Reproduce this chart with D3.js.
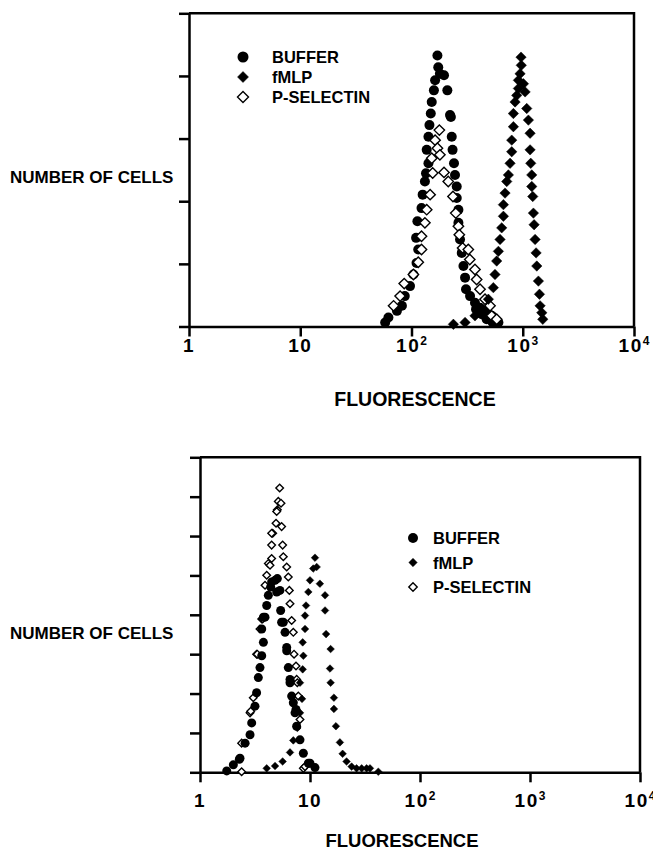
<!DOCTYPE html>
<html>
<head>
<meta charset="utf-8">
<script src="https://cdn.jsdelivr.net/npm/d3@7"></script>
<style>
  body { margin: 0; background: #fff; }
</style>
</head>
<body>
<svg id="chart" width="653" height="851"></svg>
<script>
// legend + axis text
const seriesNames = ["BUFFER", "fMLP", "P-SELECTIN"];
const xTickValues = [1, 10, 100, 1000, 10000];
const xTickBase = ["1", "10", "10", "10", "10"];
const xTickExp = ["", "", "2", "3", "4"];

// top panel: [fluorescence, number of cells]
const topBuffer = [
  [58, 1.3], [62, 2.9], [74, 5.0], [82, 6.6], [87, 9.7], [97, 12.9], [104, 16.6], [111, 20.3],
  [115, 24.6], [110, 28.3], [113, 33.6], [123, 37.8], [126, 42.1], [132, 46.3], [135, 48.9],
  [142, 52.1], [137, 56.4], [142, 60.6], [145, 64.3], [149, 68.0], [152, 71.7], [159, 75.4],
  [163, 78.6], [171, 86.5], [174, 82.8], [180, 80.7], [196, 80.2], [210, 75.4], [222, 67.5],
  [226, 66.9], [230, 60.6], [234, 56.4], [241, 52.1], [246, 48.4], [255, 44.7], [255, 41.0],
  [264, 37.3], [264, 33.1], [273, 27.8], [283, 23.5], [293, 19.3], [303, 15.6], [309, 11.9],
  [336, 9.7], [372, 7.6], [380, 5.5], [413, 6.0], [428, 3.9], [458, 5.0], [474, 2.3],
  [526, 3.4], [537, 1.3], [604, 1.3]
];
const topFmlp = [
  [238, 0.7], [303, 1.3], [372, 3.4], [428, 5.5], [491, 8.7], [544, 12.4], [563, 16.6],
  [583, 20.9], [604, 24.0], [625, 27.8], [647, 31.5], [670, 35.2], [670, 38.9], [693, 42.6],
  [718, 46.3], [743, 48.4], [769, 52.1], [796, 55.8], [796, 59.5], [824, 63.8], [824, 68.0],
  [853, 71.7], [883, 73.8], [914, 76.0], [914, 78.6], [946, 80.7], [970, 83.4], [965, 86.0],
  [1014, 77.5], [1050, 74.9], [1086, 69.6], [1124, 65.9], [1164, 61.7], [1164, 56.4],
  [1180, 52.1], [1205, 48.4], [1205, 44.7], [1230, 41.5], [1247, 36.2], [1265, 32.5],
  [1291, 27.8], [1318, 23.5], [1337, 19.3], [1383, 14.5], [1413, 10.3], [1432, 6.6],
  [1483, 4.4], [1514, 2.3]
];
const topPsel = [
  [69, 6.6], [79, 9.7], [86, 13.7], [104, 16.6], [115, 20.5], [123, 24.6], [123, 28.8],
  [132, 33.1], [137, 37.3], [147, 42.1], [155, 49.0], [152, 53.7], [163, 59.5], [178, 62.7],
  [171, 56.9], [180, 54.8], [196, 49.2], [214, 46.3], [236, 41.5], [250, 36.2], [264, 32.0],
  [269, 29.3], [288, 25.1], [324, 24.6], [334, 21.4], [372, 18.2], [385, 15.0], [413, 11.9],
  [458, 8.7], [508, 6.6], [526, 3.4], [583, 2.3]
];

// bottom panel: [fluorescence, number of cells]
const bottomBuffer = [
  [1.75, 0.7], [2.01, 3.8], [2.28, 6.6], [2.31, 7.2], [2.57, 14.8], [2.85, 19.1], [2.95, 25.1],
  [3.16, 33.6], [3.27, 40.4], [3.39, 48.1], [3.51, 53.2], [3.64, 59.2], [3.77, 66.0],
  [3.64, 72.8], [3.77, 78.8], [3.90, 78.8], [4.04, 84.7], [4.18, 89.9], [4.39, 94.1],
  [4.48, 96.7], [4.81, 97.5], [5.05, 98.4], [4.98, 91.6], [5.33, 92.4], [5.41, 82.2],
  [5.52, 76.2], [5.72, 76.2], [5.93, 71.1], [6.14, 63.4], [6.14, 61.7], [6.35, 53.2],
  [6.58, 47.2], [6.58, 45.5], [6.81, 38.7], [7.05, 35.3], [7.46, 31.9], [7.31, 30.2],
  [7.56, 23.4], [8.11, 16.5], [8.70, 9.7], [9.66, 4.6], [10.0, 4.6], [11.1, 2.4]
];
const bottomFmlp = [
  [4.04, 2.0], [4.81, 3.2], [5.64, 5.5], [6.58, 10.1], [7.05, 16.2], [7.67, 22.5],
  [8.11, 30.2], [8.46, 37.3], [8.11, 45.5], [8.58, 52.3], [8.70, 59.2], [8.58, 66.0],
  [9.01, 72.8], [9.01, 79.6], [9.20, 84.7], [9.66, 91.6], [10.0, 97.5], [10.7, 103.5],
  [11.1, 109.0], [11.5, 104.3], [12.3, 95.8], [13.7, 89.9], [13.7, 82.2], [14.0, 70.2],
  [15.4, 62.6], [15.2, 52.7], [15.4, 45.5], [16.5, 37.9], [16.5, 32.2], [17.2, 23.4],
  [18.7, 15.2], [19.8, 9.4], [21.5, 5.5], [23.9, 2.9], [26.5, 2.0], [29.5, 2.0],
  [32.7, 2.0], [35.1, 2.0], [41.8, 0.3]
];
const bottomPsel = [
  [2.39, 0.3], [2.39, 14.8], [2.85, 30.2], [2.89, 31.0], [3.05, 37.9], [3.27, 60.0],
  [3.32, 60.0], [3.51, 72.8], [3.64, 77.9], [3.71, 77.9], [3.90, 95.0], [4.04, 100.1],
  [4.18, 106.1], [4.33, 105.2], [4.48, 108.6], [4.48, 115.4], [4.58, 121.4], [4.48, 121.4],
  [4.91, 126.5], [5.05, 133.3], [4.98, 132.5], [5.15, 137.6], [5.30, 144.4], [5.45, 136.7],
  [5.52, 124.8], [5.64, 115.4], [5.72, 109.5], [6.14, 104.3], [6.35, 99.2], [6.49, 92.4],
  [6.58, 85.6], [6.81, 77.1], [7.05, 71.1], [7.16, 60.0], [7.46, 54.0], [7.56, 47.2],
  [7.67, 45.5], [7.83, 38.7], [8.11, 26.8], [8.70, 2.0], [9.01, 2.9]
];

const svg = d3.select("#chart");
const font = "'Liberation Sans', Arial, Helvetica, sans-serif";

// square diamond (rotated square)
function diamond(s) {
  return `M0,${-s}L${s},0L0,${s}L${-s},0Z`;
}

function drawPanel(p) {
  const x = d3.scaleLog().domain([1, 10000]).range([p.left, p.right]);
  const y = d3.scaleLinear().domain([0, p.yMax]).range([p.bottom, p.top]);
  const g = svg.append("g");

  // top + right frame
  g.append("path")
    .attr("d", `M${p.left},${p.top}H${p.right}V${p.bottom}`)
    .attr("fill", "none")
    .attr("stroke", "#000")
    .attr("stroke-width", 2.5);

  const yAxis = g.append("g")
    .attr("transform", `translate(${p.left},0)`)
    .call(d3.axisLeft(y).tickValues(d3.range(0, p.yMax + 1, 20)).tickSize(10).tickSizeOuter(0).tickFormat(""));
  const xAxis = g.append("g")
    .attr("transform", `translate(0,${p.bottom})`)
    .call(d3.axisBottom(x).tickValues(xTickValues).tickSize(10).tickSizeOuter(0).tickFormat(""));
  [yAxis, xAxis].forEach(a => {
    a.selectAll("path, line").attr("stroke", "#000").attr("stroke-width", 2.5);
  });

  // tick labels with superscripts
  const labels = g.selectAll(".xlab")
    .data(xTickValues)
    .enter()
    .append("text")
    .attr("class", "xlab")
    .attr("x", d => x(d))
    .attr("y", p.labelY)
    .attr("text-anchor", "middle")
    .attr("font-family", font)
    .attr("font-weight", "bold")
    .attr("font-size", "19px");
  labels.append("tspan").attr("letter-spacing", "1.5px").text((d, i) => xTickBase[i]);
  labels.append("tspan")
    .attr("font-size", "12px")
    .attr("dy", -7)
    .text((d, i) => xTickExp[i]);

  g.append("text")
    .attr("x", p.titleX)
    .attr("y", p.titleY)
    .attr("text-anchor", "middle")
    .attr("font-family", font)
    .attr("font-weight", "bold")
    .attr("font-size", p.titleSize)
    .text("FLUORESCENCE");

  g.append("text")
    .attr("x", 10)
    .attr("y", p.yTitleY)
    .attr("font-family", font)
    .attr("font-weight", "bold")
    .attr("font-size", "17px")
    .text("NUMBER OF CELLS");

  // data
  const plot = g.append("g");
  p.order.forEach(k => {
    const s = p.series[k];
    if (k === 0) {
      plot.selectAll(null).data(s).enter().append("circle")
        .attr("cx", d => x(d[0]))
        .attr("cy", d => y(d[1]))
        .attr("r", p.r)
        .attr("fill", "#000");
    } else {
      plot.selectAll(null).data(s).enter().append("path")
        .attr("transform", d => `translate(${x(d[0])},${y(d[1])})`)
        .attr("d", diamond(p.d))
        .attr("fill", k === 1 ? "#000" : "#fff")
        .attr("stroke", "#000")
        .attr("stroke-width", k === 1 ? 0.5 : 1.4);
    }
  });

  // legend
  const leg = g.selectAll(".leg")
    .data(seriesNames)
    .enter()
    .append("g")
    .attr("transform", (d, i) => `translate(${p.legX},${p.legY + i * p.legStep})`);
  leg.each(function(d, i) {
    const e = d3.select(this);
    if (i === 0) {
      e.append("circle").attr("r", p.legR).attr("fill", "#000");
    } else {
      e.append("path").attr("d", diamond(p.legD))
        .attr("fill", i === 1 ? "#000" : "#fff")
        .attr("stroke", "#000")
        .attr("stroke-width", i === 1 ? 0.5 : 1.4);
    }
  });
  leg.append("text")
    .attr("x", p.legText)
    .attr("y", 6)
    .attr("font-family", font)
    .attr("font-weight", "bold")
    .attr("font-size", "16.5px")
    .text(d => d);
}

drawPanel({
  left: 189, right: 634, top: 13.3, bottom: 326.5, yMax: 100,
  series: [topBuffer, topFmlp, topPsel], order: [0, 2, 1],
  r: 5, d: 5.2,
  labelY: 352, titleX: 415, titleY: 406, titleSize: "19.5px", yTitleY: 183,
  legX: 243, legY: 57, legStep: 20, legR: 5.5, legD: 5.5, legText: 29
});

drawPanel({
  left: 200, right: 640, top: 457.3, bottom: 772.3, yMax: 160,
  series: [bottomBuffer, bottomFmlp, bottomPsel], order: [2, 0, 1],
  r: 4.5, d: 3.8,
  labelY: 807, titleX: 402, titleY: 847, titleSize: "18.5px", yTitleY: 639,
  legX: 413, legY: 538, legStep: 24.5, legR: 5, legD: 4.2, legText: 20
});
</script>
</body>
</html>
